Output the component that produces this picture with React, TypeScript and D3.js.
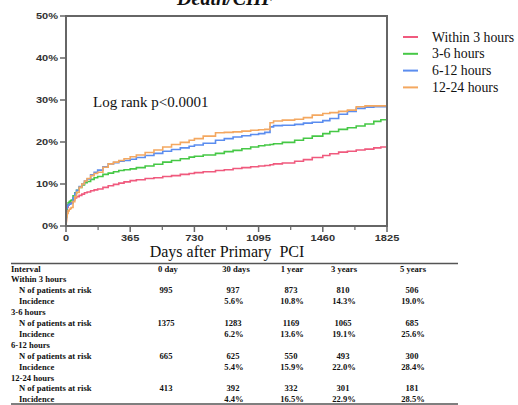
import React from "react";
import * as d3 from "d3";

const seriesNames = ["Within 3 hours", "3-6 hours", "6-12 hours", "12-24 hours"];
const seriesColors = ["#f05a7e", "#46c846", "#5b8def", "#f4a860"];

const days = [0, 3, 7, 12, 18, 25, 30, 40, 50, 60, 75, 90, 105, 120, 140, 160, 180, 210, 240, 270, 300, 330, 365, 400, 450, 500, 550, 600, 650, 700, 730, 780, 850, 900, 950, 1000, 1050, 1095, 1130, 1160, 1180, 1230, 1300, 1350, 1400, 1460, 1500, 1550, 1600, 1650, 1700, 1750, 1790, 1825];
const within3 = [1.5, 3.5, 4.5, 5.0, 5.3, 5.5, 5.6, 6.2, 6.7, 7.0, 7.3, 7.6, 7.9, 8.1, 8.4, 8.6, 8.8, 9.2, 9.6, 9.9, 10.2, 10.5, 10.8, 11.0, 11.3, 11.5, 11.8, 12.0, 12.3, 12.5, 12.7, 12.9, 13.2, 13.4, 13.7, 13.9, 14.1, 14.3, 14.4, 14.6, 14.8, 15.0, 15.4, 15.8, 16.3, 16.8, 17.2, 17.6, 17.8, 18.1, 18.3, 18.6, 18.8, 19.0];
const h3to6 = [2, 4, 5, 5.5, 5.8, 6.0, 6.2, 7.2, 7.9, 8.5, 9.2, 9.8, 10.3, 10.6, 11.1, 11.5, 11.8, 12.3, 12.6, 12.9, 13.2, 13.4, 13.6, 13.9, 14.3, 14.7, 15.2, 15.6, 16.0, 16.4, 16.6, 16.9, 17.3, 17.7, 18.0, 18.4, 18.8, 19.1, 19.3, 19.4, 19.6, 19.9, 20.4, 20.9, 21.4, 22.0, 22.5, 23.0, 23.4, 23.8, 24.3, 24.9, 25.3, 25.6];
const h6to12 = [3.5, 4.3, 4.8, 5.0, 5.2, 5.3, 5.4, 6.8, 7.8, 8.5, 9.4, 10.0, 10.7, 11.2, 12.2, 12.8, 13.3, 14.1, 14.8, 15.1, 15.4, 15.6, 15.9, 16.3, 16.8, 17.3, 17.8, 18.2, 18.6, 19.0, 19.3, 19.7, 20.4, 20.8, 21.2, 21.5, 21.8, 22.0, 22.3, 23.6, 23.9, 24.0, 24.2, 24.5, 24.7, 25.1, 25.6, 26.6, 27.3, 28.0, 28.3, 28.4, 28.4, 28.4];
const h12to24 = [1, 2.2, 3.0, 3.6, 4.0, 4.2, 4.4, 5.8, 7.0, 8.0, 9.2, 10.0, 10.7, 11.3, 12.0, 12.5, 12.8, 14.0, 14.8, 15.2, 15.6, 16.0, 16.5, 16.9, 17.5, 18.1, 18.8, 19.4, 19.9, 20.4, 20.8, 21.4, 22.2, 22.3, 22.4, 22.6, 22.8, 22.9, 23.0, 24.6, 25.0, 25.2, 25.4, 25.8, 26.4, 26.8, 27.0, 27.3, 27.6, 28.4, 28.6, 28.6, 28.6, 28.6];
const seriesValues = [within3, h3to6, h6to12, h12to24];

const yTicks = [0, 10, 20, 30, 40, 50];
const xMajorTicks = [0, 365, 730, 1095, 1460, 1825];
const xMinorTicks = [182.5, 547.5, 912.5, 1277.5, 1642.5];

const tableHeaders = ["0 day", "30 days", "1 year", "3 years", "5 years"];
const atRisk = [
  ["995", "937", "873", "810", "506"],
  ["1375", "1283", "1169", "1065", "685"],
  ["665", "625", "550", "493", "300"],
  ["413", "392", "332", "301", "181"],
];
const incidence = [
  ["", "5.6%", "10.8%", "14.3%", "19.0%"],
  ["", "6.2%", "13.6%", "19.1%", "25.6%"],
  ["", "5.4%", "15.9%", "22.0%", "28.4%"],
  ["", "4.4%", "16.5%", "22.9%", "28.5%"],
];

const W = 518;
const H = 405;
const serif = "'Liberation Serif', 'Times New Roman', serif";
const sans = "'Liberation Sans', Arial, sans-serif";

export default function App() {
  const x = d3.scaleLinear().domain([0, 1825]).range([66, 387]);
  const y = d3.scaleLinear().domain([0, 50]).range([226, 16]);
  const line = d3
    .line<[number, number]>()
    .x((d) => x(d[0]))
    .y((d) => y(d[1]))
    .curve(d3.curveStepAfter);

  const headerX = [168, 236, 292, 344, 413];
  const valueX = [166, 233, 291, 343, 412];
  const rowY0 = 271.5;
  const rowStep = 10.9;
  const axisColor = "#666";

  return (
    <svg
      width={W}
      height={H}
      style={{ position: "absolute", left: 0, top: 0, display: "block", background: "#fff" }}
    >
      {/* title, partially cut as in the source */}
      <text x={226} y={5} textAnchor="middle" fontFamily={serif} fontWeight="bold" fontStyle="italic" fontSize={20} fill="#111">
        Death/CHF
      </text>

      {/* curves */}
      {seriesValues.map((vals, i) => (
        <path
          key={i}
          d={line(days.map((dd, j) => [dd, vals[j]] as [number, number])) || ""}
          fill="none"
          stroke={seriesColors[i]}
          strokeWidth={1.6}
        />
      ))}

      {/* frame */}
      <rect x={66} y={16} width={321} height={210} fill="none" stroke={axisColor} strokeWidth={2} />

      {/* y ticks */}
      {yTicks.map((t) => (
        <g key={t}>
          <line x1={60} x2={66} y1={y(t)} y2={y(t)} stroke={axisColor} strokeWidth={1.5} />
          <text
            transform={`translate(58,${y(t) + 3}) scale(1.3,1)`}
            textAnchor="end"
            fontFamily={sans}
            fontWeight="bold"
            fontSize={8.5}
            fill="#333"
          >
            {t}%
          </text>
        </g>
      ))}

      {/* x ticks */}
      {xMajorTicks.map((t) => (
        <g key={t}>
          <line x1={x(t)} x2={x(t)} y1={226} y2={232} stroke={axisColor} strokeWidth={1.5} />
          <text
            transform={`translate(${x(t)},241) scale(1.3,1)`}
            textAnchor="middle"
            fontFamily={sans}
            fontWeight="bold"
            fontSize={8.5}
            fill="#333"
          >
            {t}
          </text>
        </g>
      ))}
      {xMinorTicks.map((t) => (
        <line key={t} x1={x(t)} x2={x(t)} y1={226} y2={230} stroke={axisColor} strokeWidth={1.2} />
      ))}

      {/* x label */}
      <text x={227} y={257} textAnchor="middle" fontFamily={serif} fontSize={16} fill="#111">
        {"Days after Primary\u00a0\u00a0PCI"}
      </text>

      {/* log rank */}
      <text x={93} y={107} fontFamily={serif} fontSize={15} fill="#111">
        Log rank p&lt;0.0001
      </text>

      {/* legend */}
      {seriesNames.map((n, i) => (
        <g key={n}>
          <line x1={403} x2={418} y1={37 + i * 16.8} y2={37 + i * 16.8} stroke={seriesColors[i]} strokeWidth={2} />
          <text x={432} y={41.5 + i * 16.8} fontFamily={serif} fontSize={13.8} fill="#111">
            {n}
          </text>
        </g>
      ))}

      {/* table */}
      <line x1={11} x2={458} y1={263.5} y2={263.5} stroke="#555" strokeWidth={1.6} />
      <line x1={11} x2={458} y1={404} y2={404} stroke="#555" strokeWidth={1.6} />
      <g fontFamily={serif} fontWeight="bold" fontSize={8.6} fill="#111">
        <text x={11} y={rowY0}>Interval</text>
        {tableHeaders.map((h, k) => (
          <text key={h} x={headerX[k]} y={rowY0} textAnchor="middle">
            {h}
          </text>
        ))}
        {seriesNames.map((n, g) => {
          const base = rowY0 + rowStep * (1 + g * 3);
          return (
            <g key={n}>
              <text x={11} y={base}>{n}</text>
              <text x={19} y={base + rowStep}>N of patients at risk</text>
              <text x={19} y={base + rowStep * 2}>Incidence</text>
              {atRisk[g].map((v, k) => (
                <text key={"n" + k} x={valueX[k]} y={base + rowStep} textAnchor="middle">
                  {v}
                </text>
              ))}
              {incidence[g].map((v, k) =>
                v ? (
                  <text key={"i" + k} x={valueX[k] + 1} y={base + rowStep * 2} textAnchor="middle">
                    {v}
                  </text>
                ) : null
              )}
            </g>
          );
        })}
      </g>
    </svg>
  );
}
